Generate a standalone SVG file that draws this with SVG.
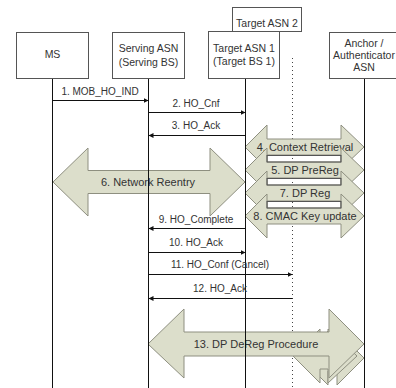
<svg xmlns="http://www.w3.org/2000/svg" width="396" height="388" viewBox="0 0 396 388">
<style>
.box{fill:#fff;stroke:#555;stroke-width:1}
.t{font-family:"Liberation Sans",Arial,sans-serif;font-size:10.5px;fill:#333;text-anchor:middle}
.m{font-family:"Liberation Sans",Arial,sans-serif;font-size:10px;fill:#333;text-anchor:middle}
.b{font-family:"Liberation Sans",Arial,sans-serif;font-size:11px;fill:#333;text-anchor:middle}
.life{stroke:#111;stroke-width:1;fill:none}
.dot{stroke:#444;stroke-width:1;stroke-dasharray:1 3;fill:none}
.msg{stroke:#111;stroke-width:1;fill:none}
.blk{fill:#dcdecb;stroke:#8e8f80;stroke-width:1}
.gap{fill:none;stroke:#555;stroke-width:1}
</style>
<defs>
<marker id="ah" viewBox="0 0 6 6" refX="6" refY="3" markerWidth="5" markerHeight="5" orient="auto-start-reverse" markerUnits="userSpaceOnUse">
<path d="M0,0 L6,3 L0,6 Z" fill="#111"/>
</marker>
</defs>

<rect width="396" height="388" fill="#fff"/>

<g id="lifeline-target2">
<line class="dot" x1="292.5" y1="58" x2="292.5" y2="388"/>
</g>

<g id="bulk-arrows">
<g id="op-13b">
<polygon class="blk" points="301,358 328,331 328,345 337,345 337,331 364,358 337,385 337,371 328,371 328,385"/>
<polygon class="blk" points="293,356 320,329 320,343 328,343 328,329 357,356 328,383 328,369 320,369 320,383"/>
</g>
<g id="op-6">
<polygon class="blk" points="53,182 88,148 88,170.5 210,170.5 210,148 245,182 210,216 210,193.5 88,193.5 88,216"/>
<text class="b" x="148" y="186">6. Network Reentry</text>
</g>
<g id="op-4">
<polygon class="blk" points="245,147 267,125 267,139 341,139 341,125 364,147 341,169 341,155 267,155 267,169"/>
<text class="b" x="305" y="151">4. Context Retrieval</text>
</g>
<g id="op-5">
<polygon class="blk" points="245,170 267,148 267,162 341,162 341,148 364,170 341,192 341,178 267,178 267,192"/>
<text class="b" x="305" y="174">5. DP PreReg</text>
</g>
<g id="op-7">
<polygon class="blk" points="245,193 267,171 267,185 341,185 341,171 364,193 341,215 341,201 267,201 267,215"/>
<text class="b" x="305" y="197">7. DP Reg</text>
</g>
<g id="op-8">
<polygon class="blk" points="245,216 267,194 267,208 341,208 341,194 364,216 341,238 341,224 267,224 267,238"/>
<text class="b" x="305" y="220">8. CMAC Key update</text>
</g>
<g id="bands">
<rect class="gap" x="267" y="155.5" width="74" height="6.5"/>
<rect class="gap" x="267" y="178.5" width="74" height="6.5"/>
<rect class="gap" x="267" y="201.5" width="74" height="6.5"/>
</g>
<g id="op-13">
<polygon class="blk" points="148,344 184,309 184,332 329,332 329,309 364,344 329,378 329,356 184,356 184,378"/>
<text class="b" x="256" y="348">13.  DP DeReg Procedure</text>
</g>
</g>

<g id="lifelines">
<line class="life" x1="52.5" y1="78" x2="52.5" y2="388"/>
<line class="life" x1="148.5" y1="78" x2="148.5" y2="388"/>
<line class="life" x1="245.5" y1="78" x2="245.5" y2="388"/>
<line class="life" x1="364.5" y1="78" x2="364.5" y2="388"/>
</g>

<g id="node-target2">
<rect class="box" x="232.5" y="7.5" width="69" height="24"/>
<text class="t" x="267" y="27">Target ASN 2</text>
</g>
<g id="node-ms">
<rect class="box" x="16.5" y="32.5" width="72" height="46"/>
<text class="t" x="52.5" y="58">MS</text>
</g>
<g id="node-serving">
<rect class="box" x="112.5" y="32.5" width="72" height="46"/>
<text class="t" x="148.5" y="52">Serving ASN</text>
<text class="t" x="148.5" y="66">(Serving BS)</text>
</g>
<g id="node-target1">
<rect class="box" x="208.5" y="31.5" width="71" height="47"/>
<text class="t" x="244" y="52">Target ASN 1</text>
<text class="t" x="244" y="65">(Target BS 1)</text>
</g>
<g id="node-anchor">
<rect class="box" x="329.5" y="32.5" width="70" height="46"/>
<text class="t" x="364" y="47">Anchor /</text>
<text class="t" x="364" y="59">Authenticator</text>
<text class="t" x="364" y="71">ASN</text>
</g>

<g id="connectors">
<line class="msg" x1="52.5" y1="100.5" x2="148.5" y2="100.5" marker-end="url(#ah)"/>
<text class="m" x="100" y="95">1. MOB_HO_IND</text>
<line class="msg" x1="148.5" y1="112.5" x2="245.5" y2="112.5" marker-end="url(#ah)"/>
<text class="m" x="196" y="107">2. HO_Cnf</text>
<line class="msg" x1="245.5" y1="135.5" x2="148.5" y2="135.5" marker-end="url(#ah)"/>
<text class="m" x="196" y="129">3. HO_Ack</text>
<line class="msg" x1="245.5" y1="228.5" x2="148.5" y2="228.5" marker-end="url(#ah)"/>
<text class="m" x="196" y="223">9. HO_Complete</text>
<line class="msg" x1="148.5" y1="252.5" x2="245.5" y2="252.5" marker-end="url(#ah)"/>
<text class="m" x="196" y="246">10. HO_Ack</text>
<line class="msg" x1="148.5" y1="274.5" x2="292.5" y2="274.5" marker-end="url(#ah)"/>
<text class="m" x="220" y="268">11. HO_Conf (Cancel)</text>
<line class="msg" x1="292.5" y1="298.5" x2="148.5" y2="298.5" marker-end="url(#ah)"/>
<text class="m" x="220" y="292">12. HO_Ack</text>
</g>
</svg>
